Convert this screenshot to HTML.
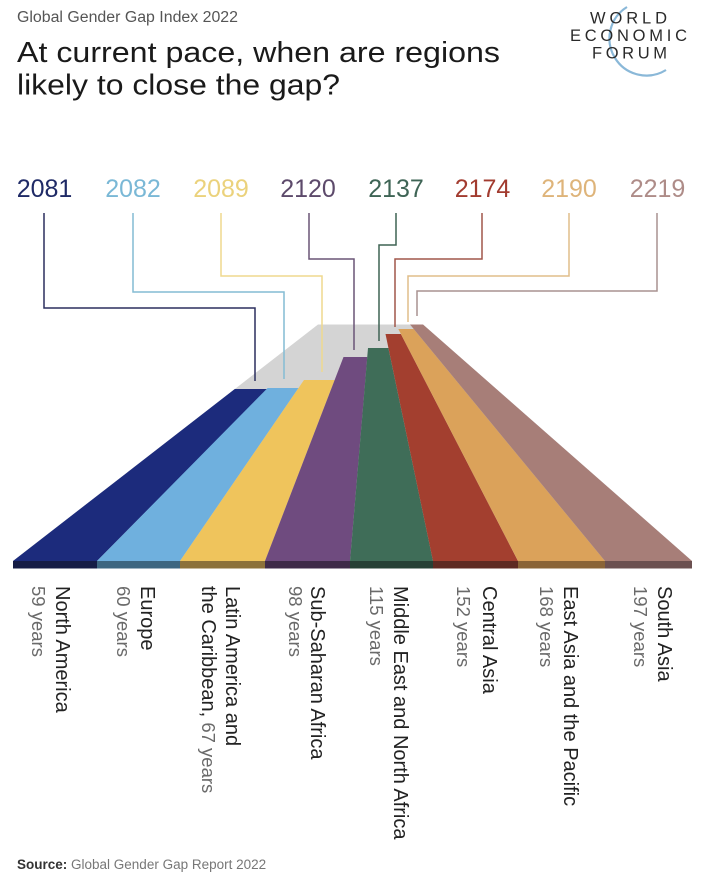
<!DOCTYPE html>
<html>
<head>
<meta charset="utf-8">
<style>
  html,body{margin:0;padding:0;background:#ffffff;}
  svg{display:block;}
  text{font-family:"Liberation Sans", Arial, sans-serif;}
</style>
</head>
<body>
<svg width="710" height="888" viewBox="0 0 710 888" xmlns="http://www.w3.org/2000/svg">
  <rect x="0" y="0" width="710" height="888" fill="#ffffff"/>

  <!-- Header -->
  <text x="17" y="22" font-size="15.5" fill="#555555" textLength="221" lengthAdjust="spacingAndGlyphs">Global Gender Gap Index 2022</text>
  <text x="17" y="62" font-size="28.5" fill="#1a1a1a" textLength="483" lengthAdjust="spacingAndGlyphs">At current pace, when are regions</text>
  <text x="17" y="94.5" font-size="28.5" fill="#1a1a1a" textLength="323" lengthAdjust="spacingAndGlyphs">likely to close the gap?</text>

  <!-- Logo -->
  <path d="M 627 7 A 36 36 0 0 0 666 70" fill="none" stroke="#8ab8d8" stroke-width="2.2"/>
  <text x="590" y="23.5" font-size="16.5" fill="#2a2a2a" textLength="77" lengthAdjust="spacing">WORLD</text>
  <text x="570" y="41" font-size="16.5" fill="#2a2a2a" textLength="117" lengthAdjust="spacing">ECONOMIC</text>
  <text x="592" y="58.5" font-size="16.5" fill="#2a2a2a" textLength="75" lengthAdjust="spacing">FORUM</text>

  <!-- Years -->
  <g font-size="25" text-anchor="middle">
    <text x="44.5" y="197" fill="#1f2a66">2081</text>
    <text x="133" y="197" fill="#7ab8d6">2082</text>
    <text x="221" y="197" fill="#ebd27c">2089</text>
    <text x="308" y="197" fill="#5d4a6b">2120</text>
    <text x="396" y="197" fill="#3e6455">2137</text>
    <text x="482.5" y="197" fill="#a23b2f">2174</text>
    <text x="569" y="197" fill="#deb47a">2190</text>
    <text x="657.5" y="197" fill="#ae8c88">2219</text>
  </g>

  <!-- Gray surface -->
  <polygon points="318,324.5 423,324.5 692,561 13,561" fill="#d4d4d4"/>

  <!-- Connector lines -->
  <g fill="none" stroke-width="1.5">
    <polyline points="44,213 44,308 255,308 255,381" stroke="#2b2f5e"/>
    <polyline points="133,213 133,292 284,292 284,379" stroke="#84bcd4"/>
    <polyline points="221,213 221,276 322,276 322,372" stroke="#efd98e"/>
    <polyline points="309,213 309,259 354,259 354,350" stroke="#6a5576"/>
    <polyline points="396,213 396,245 379,245 379,341" stroke="#3f6354"/>
    <polyline points="482,213 482,259 395,259 395,327" stroke="#a0564a"/>
    <polyline points="569,213 569,276 408,276 408,322" stroke="#e0bd8a"/>
    <polyline points="657,213 657,291 417,291 417,316" stroke="#a99290"/>
  </g>

  <!-- Bars -->
  <polygon points="234.8,389 267.2,389 97,561 13,561" fill="#1c2b7c"/>
  <polygon points="267.6,388 298.5,388 180,561 97,561" fill="#6fb0de"/>
  <polygon points="304,380 334.6,380 265,561 180,561" fill="#efc45c"/>
  <polygon points="343.5,357 367.3,357 350,561 265,561" fill="#6f4b7f"/>
  <polygon points="368,348 388.4,348 433,561 350,561" fill="#3f6d58"/>
  <polygon points="385.5,334 400.9,334 518,561 433,561" fill="#a33f2f"/>
  <polygon points="398.3,329 413.7,329 605,561 518,561" fill="#dba25a"/>
  <polygon points="410,324.5 423,324.5 692,561 605,561" fill="#a77e78"/>

  <!-- Bottom strips -->
  <rect x="13" y="561" width="84" height="7.5" fill="#151c45"/>
  <rect x="97" y="561" width="83" height="7.5" fill="#3d6680"/>
  <rect x="180" y="561" width="85" height="7.5" fill="#8c713a"/>
  <rect x="265" y="561" width="85" height="7.5" fill="#3e2a48"/>
  <rect x="350" y="561" width="83" height="7.5" fill="#264035"/>
  <rect x="433" y="561" width="85" height="7.5" fill="#5e2a22"/>
  <rect x="518" y="561" width="87" height="7.5" fill="#8a6437"/>
  <rect x="605" y="561" width="87" height="7.5" fill="#6b5050"/>

  <!-- Region labels (rotated) -->
  <g>
    <text transform="translate(56,586) rotate(90)" font-size="20" fill="#222222">North America</text>
    <text transform="translate(32,586) rotate(90)" font-size="18.5" fill="#6a6a6a">59 years</text>

    <text transform="translate(141,586) rotate(90)" font-size="20" fill="#222222">Europe</text>
    <text transform="translate(117,586) rotate(90)" font-size="18.5" fill="#6a6a6a">60 years</text>

    <text transform="translate(226,586) rotate(90)" font-size="20" fill="#222222">Latin America and</text>
    <text transform="translate(202,586) rotate(90)" font-size="20" fill="#222222">the Caribbean,<tspan font-size="18.5" fill="#6a6a6a"> 67 years</tspan></text>

    <text transform="translate(311,586) rotate(90)" font-size="20" fill="#222222">Sub-Saharan Africa</text>
    <text transform="translate(289,586) rotate(90)" font-size="18.5" fill="#6a6a6a">98 years</text>

    <text transform="translate(394,586) rotate(90)" font-size="20" fill="#222222">Middle East and North Africa</text>
    <text transform="translate(370,586) rotate(90)" font-size="18.5" fill="#6a6a6a">115 years</text>

    <text transform="translate(483,586) rotate(90)" font-size="20" fill="#222222">Central Asia</text>
    <text transform="translate(457,586) rotate(90)" font-size="18.5" fill="#6a6a6a">152 years</text>

    <text transform="translate(564,586) rotate(90)" font-size="20" fill="#222222">East Asia and the Pacific</text>
    <text transform="translate(540,586) rotate(90)" font-size="18.5" fill="#6a6a6a">168 years</text>

    <text transform="translate(658,586) rotate(90)" font-size="20" fill="#222222">South Asia</text>
    <text transform="translate(634,586) rotate(90)" font-size="18.5" fill="#6a6a6a">197 years</text>
  </g>

  <!-- Source -->
  <text x="17" y="869" font-size="13.5" fill="#777777"><tspan font-weight="bold" fill="#333333">Source:</tspan> Global Gender Gap Report 2022</text>
</svg>
</body>
</html>
